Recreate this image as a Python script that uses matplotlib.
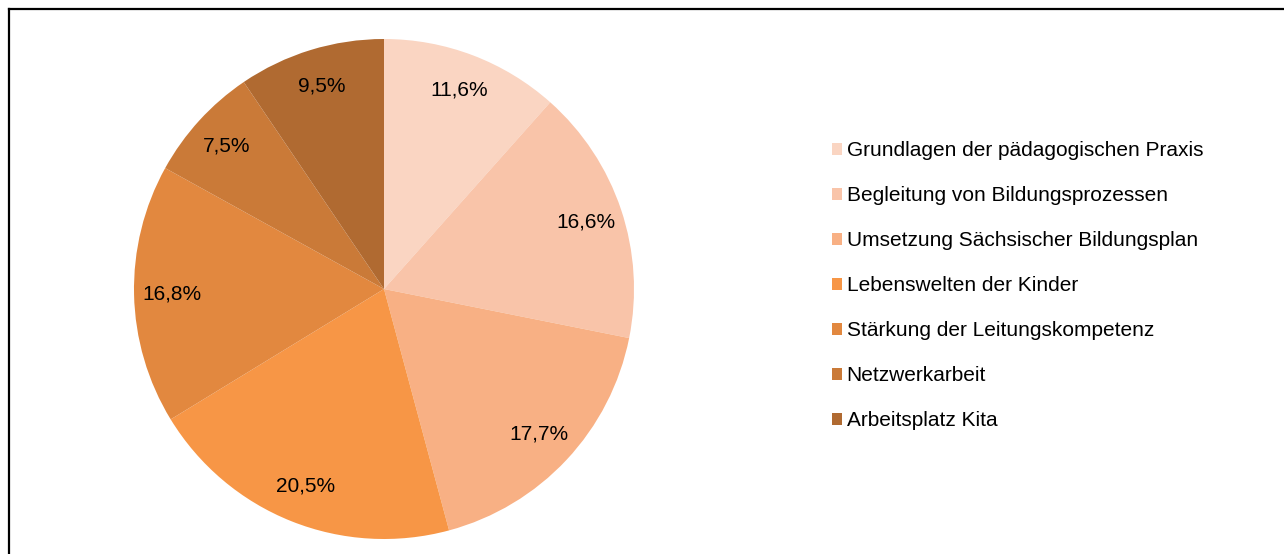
import matplotlib.pyplot as plt
from matplotlib.patches import Patch
from matplotlib.lines import Line2D

plt.rcParams['font.family'] = ['Liberation Sans', 'DejaVu Sans']

# data
categories = ['Grundlagen der pädagogischen Praxis',
              'Begleitung von Bildungsprozessen',
              'Umsetzung Sächsischer Bildungsplan',
              'Lebenswelten der Kinder',
              'Stärkung der Leitungskompetenz',
              'Netzwerkarbeit',
              'Arbeitsplatz Kita']
shares = [11.6, 16.6, 17.7, 20.5, 16.8, 7.5, 9.5]
colors = ['#FAD5C2', '#F9C4A9', '#F8B084', '#F79646', '#E2883F', '#CA7A38', '#B06A31']

W, H = 1284, 554
fig = plt.figure(figsize=(W / 100, H / 100), dpi=100)

# pie centre (384, 289), radius 250 px
cx, cy, r = 384, 289, 250
ax = fig.add_axes([(cx - r) / W, (H - cy - r) / H, 2 * r / W, 2 * r / H])
wedges, texts, autotexts = ax.pie(shares, colors=colors, startangle=90, counterclock=False,
                                  autopct=lambda p: '', pctdistance=0.85, radius=1.0,
                                  wedgeprops=dict(linewidth=0))
for t, v in zip(autotexts, shares):
    t.set_text(f'{v:.1f}%'.replace('.', ','))
    t.set_fontsize(15)
    t.set_color('black')
ax.set_xlim(-1, 1)
ax.set_ylim(-1, 1)
ax.set_aspect('equal')

handles = [Patch(facecolor=c, edgecolor='none') for c in colors]
fig.legend(handles, categories, loc='upper left',
           bbox_to_anchor=(832 / W, 1 - 141 / H), frameon=False,
           fontsize=15, handlelength=0.5, handleheight=0.5, handletextpad=0.2,
           labelspacing=1.25, borderpad=0, borderaxespad=0)

# chart border (only top and left visible)
fig.add_artist(Line2D([9 / W, 1], [1 - 9 / H, 1 - 9 / H], color='black', linewidth=1.6))
fig.add_artist(Line2D([9 / W, 9 / W], [0, 1 - 9 / H], color='black', linewidth=1.6))

fig.savefig('out.png', dpi=100)
